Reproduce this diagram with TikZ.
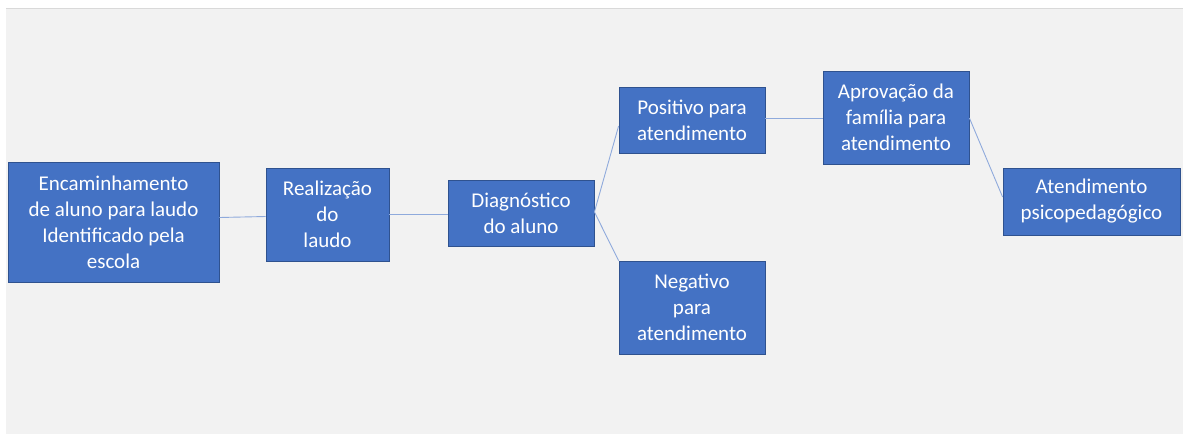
\documentclass[tikz,border=0pt]{standalone}
\usepackage{fontspec}
\setmainfont{Carlito}
\definecolor{boxfill}{HTML}{4472C4}
\definecolor{boxline}{HTML}{2F528F}
\definecolor{conn}{HTML}{8FAADC}
\definecolor{bg}{HTML}{F2F2F2}
\definecolor{bgline}{HTML}{D9D9D9}
\begin{document}
\begin{tikzpicture}[x=1pt,y=-1pt,
  box/.style={draw=boxline,line width=0.8pt,fill=boxfill,text=white,align=center,
    font=\fontsize{21}{26}\selectfont,inner sep=0pt},
  link/.style={draw=conn,line width=0.9pt}]
\useasboundingbox (0,0) rectangle (1186,434);
\fill[white] (0,0) rectangle (1186,434);
\fill[bg] (6,8) rectangle (1183,434);
\draw[bgline,line width=1pt] (6,8.5) -- (1183,8.5);
\node[box,minimum width=211pt,minimum height=120pt] (enc) at (113.5,222) {Encaminhamento\\de aluno para laudo\\Identificado pela\\escola};
\node[box,minimum width=123pt,minimum height=93pt] (rea) at (327.5,214.5) {Realização\\do\\laudo};
\node[box,minimum width=146pt,minimum height=66pt] (dia) at (521,213) {Diagnóstico\\do aluno};
\node[box,minimum width=146pt,minimum height=66pt] (pos) at (692,120) {Positivo para\\atendimento};
\node[box,minimum width=146pt,minimum height=93pt] (neg) at (692,307.5) {Negativo\\para\\atendimento};
\node[box,minimum width=146pt,minimum height=93pt] (apr) at (896,117.5) {Aprovação da\\família para\\atendimento};
\node[box,minimum width=177pt,minimum height=67pt] (ate) at (1091.5,201.5) {Atendimento\\psicopedagógico};
\coordinate (e1) at (enc.east |- 0,217.5);
\coordinate (r1) at (rea.west |- 0,216.5);
\draw[link] (e1) -- (r1);
\coordinate (r2) at (rea.east |- 0,214);
\coordinate (d1) at (dia.west |- 0,214);
\draw[link] (r2) -- (d1);
\coordinate (d2) at (dia.east |- 0,212);
\coordinate (p1) at (pos.west |- 0,126);
\draw[link] (d2) -- (p1);
\draw[link] (d2) -- (neg.north west);
\coordinate (p2) at (pos.east |- 0,118);
\coordinate (a1) at (apr.west |- 0,118);
\draw[link] (p2) -- (a1);
\coordinate (a2) at (apr.east |- 0,118);
\coordinate (t1) at (ate.west |- 0,197);
\draw[link] (a2) -- (t1);
\end{tikzpicture}
\end{document}
